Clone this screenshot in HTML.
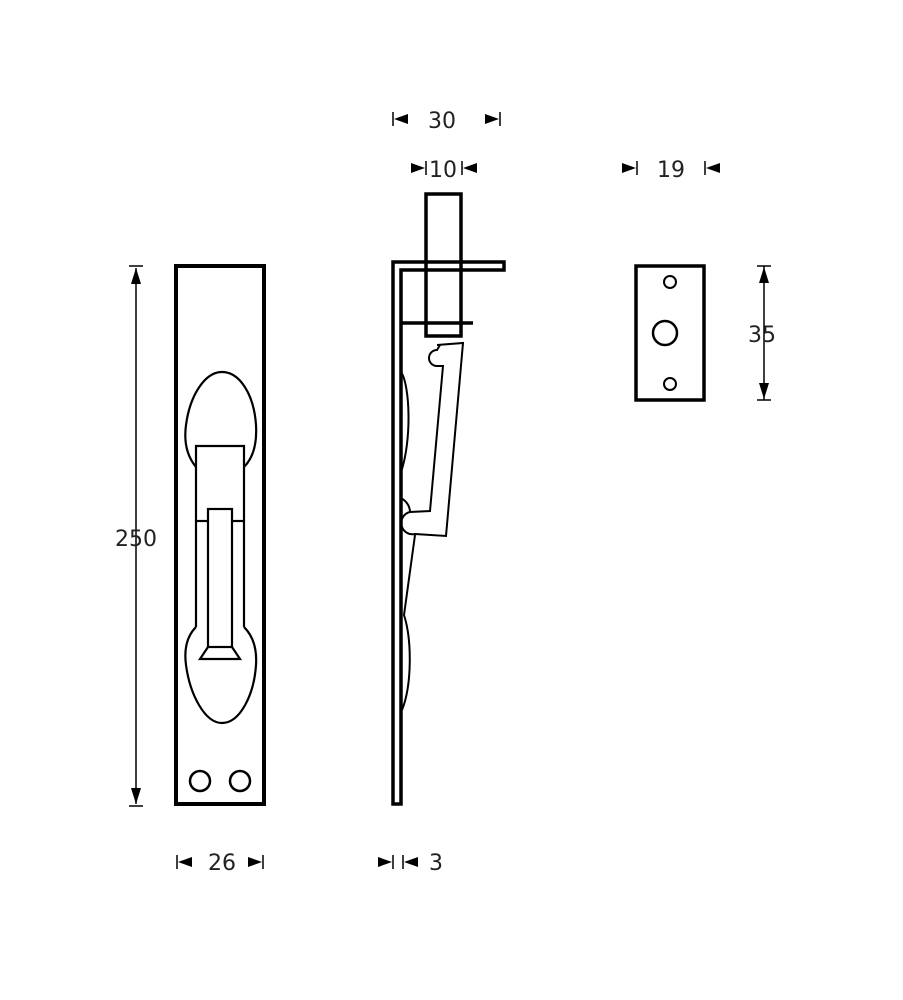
<!DOCTYPE html>
<html><head><style>body{margin:0;background:#fff}svg{display:block}text{font-family:"DejaVu Sans","Liberation Sans",sans-serif;font-size:22px;fill:#222}</style></head>
<body>
<svg width="903" height="1000" viewBox="0 0 903 1000" xmlns="http://www.w3.org/2000/svg">
<defs>
<marker id="a" markerWidth="10" markerHeight="10" refX="0" refY="5" orient="auto" markerUnits="userSpaceOnUse"></marker>
</defs>
<g fill="none" stroke="#000">
<!-- front plate -->
<rect x="176" y="266" width="88" height="538" stroke-width="4"/>
<circle cx="200" cy="781" r="10" stroke-width="2.5"/>
<circle cx="240" cy="781" r="10" stroke-width="2.5"/>
<g stroke-width="2.2">
<path d="M196,467 C186,455 184,440 186,425 C190,395 205,372 222,372 C240,372 254,395 256,425 C257,442 254,457 244,467"/>
<path d="M196,627 C186,637 184,650 186,665 C190,695 205,723 222,723 C240,723 254,695 256,665 C257,650 254,637 244,627"/>
<path d="M196,627 L196,446 L244,446 L244,627"/>
<line x1="196" y1="521" x2="208" y2="521"/>
<line x1="232" y1="521" x2="244" y2="521"/>
<rect x="208" y="509" width="24" height="138"/>
<path d="M208,647 L200,659 L240,659 L232,647"/>
</g>
<!-- side view -->
<g stroke-width="3.5">
<path d="M393,804 L393,262 L504,262 L504,270 L401,270 L401,804 Z"/>
<rect x="426" y="194" width="35" height="142"/>
<line x1="401" y1="323" x2="473" y2="323"/>
</g>
<g stroke-width="2">
<path d="M437,345 L463,343 L446,536 L415,534 A8,8 0 0 1 410,512 L430,511 L443,366 L437,366 A6,6 0 0 1 437,350 L440,345"/>
<path d="M401,372 C410,385 412,440 401,472"/>
<path d="M401,498 C408,502 410,508 410,512"/>
<path d="M415,535 L404,615 C412,640 412,685 402,710"/>
</g>
<!-- strike plate -->
<rect x="636" y="266" width="68" height="134" stroke-width="3.5"/>
<circle cx="670" cy="282" r="6" stroke-width="2"/>
<circle cx="670" cy="384" r="6" stroke-width="2"/>
<circle cx="665" cy="333" r="12" stroke-width="2.5"/>
<!-- dims -->
<g stroke-width="1.5">
<line x1="136" y1="268" x2="136" y2="804"/>
<line x1="129" y1="266" x2="143" y2="266"/><line x1="129" y1="806" x2="143" y2="806"/>
<line x1="764" y1="266" x2="764" y2="400"/>
<line x1="757" y1="266" x2="771" y2="266"/><line x1="757" y1="400" x2="771" y2="400"/>
<line x1="393" y1="112" x2="393" y2="126"/><line x1="500" y1="112" x2="500" y2="126"/>
<line x1="426" y1="161" x2="426" y2="175"/><line x1="462" y1="161" x2="462" y2="175"/>
<line x1="177" y1="855" x2="177" y2="869"/><line x1="263" y1="855" x2="263" y2="869"/>
<line x1="393" y1="855" x2="393" y2="869"/><line x1="403" y1="855" x2="403" y2="869"/>
<line x1="637" y1="161" x2="637" y2="175"/><line x1="705" y1="161" x2="705" y2="175"/>
</g>
</g>
<g fill="#000">
<polygon points="136,268 131,284 141,284"/><polygon points="136,804 131,788 141,788"/>
<polygon points="764,267 759,283 769,283"/><polygon points="764,399 759,383 769,383"/>
<polygon points="394,119 408,114 408,124"/><polygon points="499,119 485,114 485,124"/>
<polygon points="425,168 411,163 411,173"/><polygon points="463,168 477,163 477,173"/>
<polygon points="178,862 192,857 192,867"/><polygon points="262,862 248,857 248,867"/>
<polygon points="392,862 378,857 378,867"/><polygon points="404,862 418,857 418,867"/>
<polygon points="636,168 622,163 622,173"/><polygon points="706,168 720,163 720,173"/>
</g>
<text x="136" y="546" text-anchor="middle">250</text>
<text x="222" y="870" text-anchor="middle">26</text>
<text x="436" y="870" text-anchor="middle">3</text>
<text x="442" y="128" text-anchor="middle">30</text>
<text x="443" y="177" text-anchor="middle">10</text>
<text x="671" y="177" text-anchor="middle">19</text>
<text x="762" y="342" text-anchor="middle">35</text>
</svg>
</body></html>
